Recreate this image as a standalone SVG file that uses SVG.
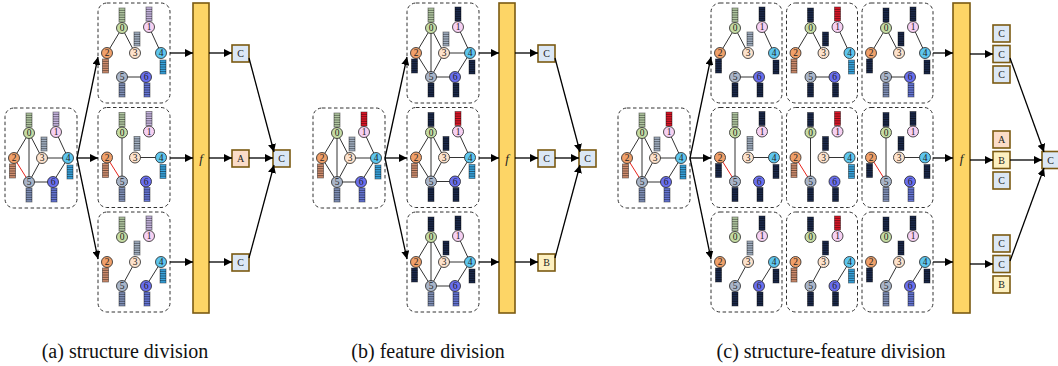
<svg xmlns="http://www.w3.org/2000/svg" xmlns:xlink="http://www.w3.org/1999/xlink" width="1058" height="366" viewBox="0 0 1058 366">
<style>
.box{fill:none;stroke:#333;stroke-width:1;stroke-dasharray:3.5 2.5}
.e{stroke:#333;stroke-width:1;fill:none}
.er{stroke:#e8241c;stroke-width:1;fill:none}
.n{stroke:#222;stroke-width:.8}
.n0{fill:#c6dca4}.n1{fill:#f6d0f2}.n2{fill:#f0a06a}.n3{fill:#fde2cc}.n4{fill:#5ec6ee}.n5{fill:#a9b5c9}.n6{fill:#6a6ff0}
.lab{font-family:"Liberation Serif","Times New Roman",serif;font-size:9.5px;text-anchor:middle;fill:#222}
.b0{color:#b4caa4}.b1{color:#c9b8e2}.br{color:#e0182a}.b2{color:#d39070}.b3{color:#a4b2c4}.b4{color:#3aa6e0}.b5{color:#8494bc}.b6{color:#6878d8}.bd{color:#1c2a4c}
.f{fill:#fdd566;stroke:#7b5a12;stroke-width:1.6}
.fl{font-family:"Liberation Serif","Times New Roman",serif;font-size:13px;font-style:italic;text-anchor:middle;fill:#222}
.o{stroke:#7b5a12;stroke-width:1.6}
.oC{fill:#dbe7f5}.oA{fill:#fbdcc8}.oB{fill:#fdf0c0}
.ol{font-family:"Liberation Serif","Times New Roman",serif;font-size:10px;text-anchor:middle;fill:#222}
.ar{stroke:#000;stroke-width:1.3;fill:none;marker-end:url(#ah)}
.cap{font-family:"Liberation Serif","Times New Roman",serif;font-size:20px;text-anchor:middle;fill:#111}
</style>
<defs>
<marker id="ah" viewBox="0 0 10 10" refX="10" refY="5" markerWidth="8" markerHeight="8" markerUnits="userSpaceOnUse" orient="auto"><path d="M0,0L10,5L0,10z" fill="#000"/></marker>
<!-- feature vector: six stacked cells, colour taken from currentColor -->
<g id="bar"><rect x="-3" y="0" width="6" height="14" fill="currentColor" stroke="#000" stroke-opacity=".5" stroke-width=".8"/><path d="M-3 2.33h6M-3 4.67h6M-3 7h6M-3 9.33h6M-3 11.67h6" stroke="#000" stroke-opacity=".5" stroke-width=".9"/></g>
</defs>

<!-- ===== (a) structure division ===== -->
<g id="a-input" transform="translate(5,108)">
<rect class="box" width="72" height="100" rx="9"/>
<path class="e" d="M24 25L9 50M24 25L37 50M24 25V74M51 24L63 50M37 50H63M37 50L24 74M63 50L48 74M24 74H48"/>
<path class="er" d="M9 50L24 74"/>
<use href="#bar" x="24" y="5" class="b0"/><use href="#bar" x="51" y="4" class="b1"/><use href="#bar" x="7.5" y="56" class="b2"/><use href="#bar" x="39" y="29" class="b3"/><use href="#bar" x="65" y="57" class="b4"/><use href="#bar" x="24" y="80" class="b5"/><use href="#bar" x="49" y="80" class="b6"/>
<circle class="n n0" cx="24" cy="25" r="5.5"/><text class="lab" x="24" y="28.3">0</text>
<circle class="n n1" cx="51" cy="24" r="5.5"/><text class="lab" x="51" y="27.3">1</text>
<circle class="n n2" cx="9" cy="50" r="5.5"/><text class="lab" x="9" y="53.3">2</text>
<circle class="n n3" cx="37" cy="50" r="5.5"/><text class="lab" x="37" y="53.3">3</text>
<circle class="n n4" cx="63" cy="50" r="5.5"/><text class="lab" x="63" y="53.3">4</text>
<circle class="n n5" cx="24" cy="74" r="5.5"/><text class="lab" x="24" y="77.3">5</text>
<circle class="n n6" cx="48" cy="74" r="5.5"/><text class="lab" x="48" y="77.3">6</text>
</g>
<g id="a-sub1" transform="translate(98,3)">
<rect class="box" width="72" height="100" rx="9"/>
<path class="e" d="M24 25L9 50M24 25L37 50M51 24L63 50M24 74H48"/>
<use href="#bar" x="24" y="5" class="b0"/><use href="#bar" x="51" y="4" class="b1"/><use href="#bar" x="7.5" y="56" class="b2"/><use href="#bar" x="39" y="29" class="b3"/><use href="#bar" x="65" y="57" class="b4"/><use href="#bar" x="24" y="80" class="b5"/><use href="#bar" x="49" y="80" class="b6"/>
<circle class="n n0" cx="24" cy="25" r="5.5"/><text class="lab" x="24" y="28.3">0</text>
<circle class="n n1" cx="51" cy="24" r="5.5"/><text class="lab" x="51" y="27.3">1</text>
<circle class="n n2" cx="9" cy="50" r="5.5"/><text class="lab" x="9" y="53.3">2</text>
<circle class="n n3" cx="37" cy="50" r="5.5"/><text class="lab" x="37" y="53.3">3</text>
<circle class="n n4" cx="63" cy="50" r="5.5"/><text class="lab" x="63" y="53.3">4</text>
<circle class="n n5" cx="24" cy="74" r="5.5"/><text class="lab" x="24" y="77.3">5</text>
<circle class="n n6" cx="48" cy="74" r="5.5"/><text class="lab" x="48" y="77.3">6</text>
</g>
<g id="a-sub2" transform="translate(98,107.5)">
<rect class="box" width="72" height="100" rx="9"/>
<path class="e" d="M24 25V74M37 50H63"/>
<path class="er" d="M9 50L24 74"/>
<use href="#bar" x="24" y="5" class="b0"/><use href="#bar" x="51" y="4" class="b1"/><use href="#bar" x="7.5" y="56" class="b2"/><use href="#bar" x="39" y="29" class="b3"/><use href="#bar" x="65" y="57" class="b4"/><use href="#bar" x="24" y="80" class="b5"/><use href="#bar" x="49" y="80" class="b6"/>
<circle class="n n0" cx="24" cy="25" r="5.5"/><text class="lab" x="24" y="28.3">0</text>
<circle class="n n1" cx="51" cy="24" r="5.5"/><text class="lab" x="51" y="27.3">1</text>
<circle class="n n2" cx="9" cy="50" r="5.5"/><text class="lab" x="9" y="53.3">2</text>
<circle class="n n3" cx="37" cy="50" r="5.5"/><text class="lab" x="37" y="53.3">3</text>
<circle class="n n4" cx="63" cy="50" r="5.5"/><text class="lab" x="63" y="53.3">4</text>
<circle class="n n5" cx="24" cy="74" r="5.5"/><text class="lab" x="24" y="77.3">5</text>
<circle class="n n6" cx="48" cy="74" r="5.5"/><text class="lab" x="48" y="77.3">6</text>
</g>
<g id="a-sub3" transform="translate(98,212)">
<rect class="box" width="72" height="100" rx="9"/>
<path class="e" d="M37 50L24 74M63 50L48 74"/>
<use href="#bar" x="24" y="5" class="b0"/><use href="#bar" x="51" y="4" class="b1"/><use href="#bar" x="7.5" y="56" class="b2"/><use href="#bar" x="39" y="29" class="b3"/><use href="#bar" x="65" y="57" class="b4"/><use href="#bar" x="24" y="80" class="b5"/><use href="#bar" x="49" y="80" class="b6"/>
<circle class="n n0" cx="24" cy="25" r="5.5"/><text class="lab" x="24" y="28.3">0</text>
<circle class="n n1" cx="51" cy="24" r="5.5"/><text class="lab" x="51" y="27.3">1</text>
<circle class="n n2" cx="9" cy="50" r="5.5"/><text class="lab" x="9" y="53.3">2</text>
<circle class="n n3" cx="37" cy="50" r="5.5"/><text class="lab" x="37" y="53.3">3</text>
<circle class="n n4" cx="63" cy="50" r="5.5"/><text class="lab" x="63" y="53.3">4</text>
<circle class="n n5" cx="24" cy="74" r="5.5"/><text class="lab" x="24" y="77.3">5</text>
<circle class="n n6" cx="48" cy="74" r="5.5"/><text class="lab" x="48" y="77.3">6</text>
</g>
<g id="a-f"><rect class="f" x="193" y="3" width="16" height="310"/><text class="fl" x="201" y="163">f</text></g>
<g id="a-out1"><rect class="o oC" x="232" y="45" width="17" height="17"/><text class="ol" x="240.5" y="57">C</text></g>
<g id="a-out2"><rect class="o oA" x="232" y="150" width="17" height="17"/><text class="ol" x="240.5" y="162">A</text></g>
<g id="a-out3"><rect class="o oC" x="232" y="254" width="17" height="17"/><text class="ol" x="240.5" y="266">C</text></g>
<g id="a-final"><rect class="o oC" x="273" y="150" width="17" height="17"/><text class="ol" x="281.5" y="162">C</text></g>

<!-- ===== (b) feature division ===== -->
<g id="b-input" transform="translate(313,108)">
<rect class="box" width="72" height="100" rx="9"/>
<path class="e" d="M24 25L9 50M24 25L37 50M24 25V74M51 24L63 50M37 50H63M37 50L24 74M63 50L48 74M24 74H48M9 50L24 74"/>
<use href="#bar" x="24" y="5" class="b0"/><use href="#bar" x="51" y="4" class="br"/><use href="#bar" x="7.5" y="56" class="b2"/><use href="#bar" x="39" y="29" class="b3"/><use href="#bar" x="65" y="57" class="b4"/><use href="#bar" x="24" y="80" class="b5"/><use href="#bar" x="49" y="80" class="b6"/>
<circle class="n n0" cx="24" cy="25" r="5.5"/><text class="lab" x="24" y="28.3">0</text>
<circle class="n n1" cx="51" cy="24" r="5.5"/><text class="lab" x="51" y="27.3">1</text>
<circle class="n n2" cx="9" cy="50" r="5.5"/><text class="lab" x="9" y="53.3">2</text>
<circle class="n n3" cx="37" cy="50" r="5.5"/><text class="lab" x="37" y="53.3">3</text>
<circle class="n n4" cx="63" cy="50" r="5.5"/><text class="lab" x="63" y="53.3">4</text>
<circle class="n n5" cx="24" cy="74" r="5.5"/><text class="lab" x="24" y="77.3">5</text>
<circle class="n n6" cx="48" cy="74" r="5.5"/><text class="lab" x="48" y="77.3">6</text>
</g>
<g id="b-sub1" transform="translate(407,3)">
<rect class="box" width="72" height="100" rx="9"/>
<path class="e" d="M24 25L9 50M24 25L37 50M24 25V74M51 24L63 50M37 50H63M37 50L24 74M63 50L48 74M24 74H48M9 50L24 74"/>
<use href="#bar" x="24" y="5" class="b0"/><use href="#bar" x="51" y="4" class="bd"/><use href="#bar" x="7.5" y="56" class="bd"/><use href="#bar" x="39" y="29" class="b3"/><use href="#bar" x="65" y="57" class="bd"/><use href="#bar" x="24" y="80" class="bd"/><use href="#bar" x="49" y="80" class="bd"/>
<circle class="n n0" cx="24" cy="25" r="5.5"/><text class="lab" x="24" y="28.3">0</text>
<circle class="n n1" cx="51" cy="24" r="5.5"/><text class="lab" x="51" y="27.3">1</text>
<circle class="n n2" cx="9" cy="50" r="5.5"/><text class="lab" x="9" y="53.3">2</text>
<circle class="n n3" cx="37" cy="50" r="5.5"/><text class="lab" x="37" y="53.3">3</text>
<circle class="n n4" cx="63" cy="50" r="5.5"/><text class="lab" x="63" y="53.3">4</text>
<circle class="n n5" cx="24" cy="74" r="5.5"/><text class="lab" x="24" y="77.3">5</text>
<circle class="n n6" cx="48" cy="74" r="5.5"/><text class="lab" x="48" y="77.3">6</text>
</g>
<g id="b-sub2" transform="translate(407,107.5)">
<rect class="box" width="72" height="100" rx="9"/>
<path class="e" d="M24 25L9 50M24 25L37 50M24 25V74M51 24L63 50M37 50H63M37 50L24 74M63 50L48 74M24 74H48M9 50L24 74"/>
<use href="#bar" x="24" y="5" class="bd"/><use href="#bar" x="51" y="4" class="br"/><use href="#bar" x="7.5" y="56" class="b2"/><use href="#bar" x="39" y="29" class="bd"/><use href="#bar" x="65" y="57" class="b4"/><use href="#bar" x="24" y="80" class="bd"/><use href="#bar" x="49" y="80" class="bd"/>
<circle class="n n0" cx="24" cy="25" r="5.5"/><text class="lab" x="24" y="28.3">0</text>
<circle class="n n1" cx="51" cy="24" r="5.5"/><text class="lab" x="51" y="27.3">1</text>
<circle class="n n2" cx="9" cy="50" r="5.5"/><text class="lab" x="9" y="53.3">2</text>
<circle class="n n3" cx="37" cy="50" r="5.5"/><text class="lab" x="37" y="53.3">3</text>
<circle class="n n4" cx="63" cy="50" r="5.5"/><text class="lab" x="63" y="53.3">4</text>
<circle class="n n5" cx="24" cy="74" r="5.5"/><text class="lab" x="24" y="77.3">5</text>
<circle class="n n6" cx="48" cy="74" r="5.5"/><text class="lab" x="48" y="77.3">6</text>
</g>
<g id="b-sub3" transform="translate(407,212)">
<rect class="box" width="72" height="100" rx="9"/>
<path class="e" d="M24 25L9 50M24 25L37 50M24 25V74M51 24L63 50M37 50H63M37 50L24 74M63 50L48 74M24 74H48M9 50L24 74"/>
<use href="#bar" x="24" y="5" class="bd"/><use href="#bar" x="51" y="4" class="bd"/><use href="#bar" x="7.5" y="56" class="bd"/><use href="#bar" x="39" y="29" class="bd"/><use href="#bar" x="65" y="57" class="bd"/><use href="#bar" x="24" y="80" class="b5"/><use href="#bar" x="49" y="80" class="b6"/>
<circle class="n n0" cx="24" cy="25" r="5.5"/><text class="lab" x="24" y="28.3">0</text>
<circle class="n n1" cx="51" cy="24" r="5.5"/><text class="lab" x="51" y="27.3">1</text>
<circle class="n n2" cx="9" cy="50" r="5.5"/><text class="lab" x="9" y="53.3">2</text>
<circle class="n n3" cx="37" cy="50" r="5.5"/><text class="lab" x="37" y="53.3">3</text>
<circle class="n n4" cx="63" cy="50" r="5.5"/><text class="lab" x="63" y="53.3">4</text>
<circle class="n n5" cx="24" cy="74" r="5.5"/><text class="lab" x="24" y="77.3">5</text>
<circle class="n n6" cx="48" cy="74" r="5.5"/><text class="lab" x="48" y="77.3">6</text>
</g>
<g id="b-f"><rect class="f" x="499" y="3" width="16" height="310"/><text class="fl" x="507" y="163">f</text></g>
<g id="b-out1"><rect class="o oC" x="538" y="45" width="17" height="17"/><text class="ol" x="546.5" y="57">C</text></g>
<g id="b-out2"><rect class="o oC" x="538" y="150" width="17" height="17"/><text class="ol" x="546.5" y="162">C</text></g>
<g id="b-out3"><rect class="o oB" x="538" y="254" width="17" height="17"/><text class="ol" x="546.5" y="266">B</text></g>
<g id="b-final"><rect class="o oC" x="579" y="150" width="17" height="17"/><text class="ol" x="587.5" y="162">C</text></g>

<!-- ===== (c) structure-feature division ===== -->
<g id="c-input" transform="translate(618,108)">
<rect class="box" width="72" height="100" rx="9"/>
<path class="e" d="M24 25L9 50M24 25L37 50M24 25V74M51 24L63 50M37 50H63M37 50L24 74M63 50L48 74M24 74H48"/>
<path class="er" d="M9 50L24 74"/>
<use href="#bar" x="24" y="5" class="b0"/><use href="#bar" x="51" y="4" class="br"/><use href="#bar" x="7.5" y="56" class="b2"/><use href="#bar" x="39" y="29" class="b3"/><use href="#bar" x="65" y="57" class="b4"/><use href="#bar" x="24" y="80" class="b5"/><use href="#bar" x="49" y="80" class="b6"/>
<circle class="n n0" cx="24" cy="25" r="5.5"/><text class="lab" x="24" y="28.3">0</text>
<circle class="n n1" cx="51" cy="24" r="5.5"/><text class="lab" x="51" y="27.3">1</text>
<circle class="n n2" cx="9" cy="50" r="5.5"/><text class="lab" x="9" y="53.3">2</text>
<circle class="n n3" cx="37" cy="50" r="5.5"/><text class="lab" x="37" y="53.3">3</text>
<circle class="n n4" cx="63" cy="50" r="5.5"/><text class="lab" x="63" y="53.3">4</text>
<circle class="n n5" cx="24" cy="74" r="5.5"/><text class="lab" x="24" y="77.3">5</text>
<circle class="n n6" cx="48" cy="74" r="5.5"/><text class="lab" x="48" y="77.3">6</text>
</g>
<!-- row 1: edges 0-2 0-3 1-4 5-6 -->
<g id="c-s1f1" transform="translate(711,3)">
<rect class="box" width="71" height="100" rx="9"/>
<path class="e" d="M24 25L9 50M24 25L37 50M51 24L63 50M24 74H48"/>
<use href="#bar" x="24" y="5" class="b0"/><use href="#bar" x="51" y="4" class="bd"/><use href="#bar" x="7.5" y="56" class="bd"/><use href="#bar" x="39" y="29" class="b3"/><use href="#bar" x="65" y="57" class="bd"/><use href="#bar" x="24" y="80" class="bd"/><use href="#bar" x="49" y="80" class="bd"/>
<circle class="n n0" cx="24" cy="25" r="5.5"/><text class="lab" x="24" y="28.3">0</text>
<circle class="n n1" cx="51" cy="24" r="5.5"/><text class="lab" x="51" y="27.3">1</text>
<circle class="n n2" cx="9" cy="50" r="5.5"/><text class="lab" x="9" y="53.3">2</text>
<circle class="n n3" cx="37" cy="50" r="5.5"/><text class="lab" x="37" y="53.3">3</text>
<circle class="n n4" cx="63" cy="50" r="5.5"/><text class="lab" x="63" y="53.3">4</text>
<circle class="n n5" cx="24" cy="74" r="5.5"/><text class="lab" x="24" y="77.3">5</text>
<circle class="n n6" cx="48" cy="74" r="5.5"/><text class="lab" x="48" y="77.3">6</text>
</g>
<g id="c-s1f2" transform="translate(786.5,3)">
<rect class="box" width="71" height="100" rx="9"/>
<path class="e" d="M24 25L9 50M24 25L37 50M51 24L63 50M24 74H48"/>
<use href="#bar" x="24" y="5" class="bd"/><use href="#bar" x="51" y="4" class="br"/><use href="#bar" x="7.5" y="56" class="b2"/><use href="#bar" x="39" y="29" class="bd"/><use href="#bar" x="65" y="57" class="b4"/><use href="#bar" x="24" y="80" class="bd"/><use href="#bar" x="49" y="80" class="bd"/>
<circle class="n n0" cx="24" cy="25" r="5.5"/><text class="lab" x="24" y="28.3">0</text>
<circle class="n n1" cx="51" cy="24" r="5.5"/><text class="lab" x="51" y="27.3">1</text>
<circle class="n n2" cx="9" cy="50" r="5.5"/><text class="lab" x="9" y="53.3">2</text>
<circle class="n n3" cx="37" cy="50" r="5.5"/><text class="lab" x="37" y="53.3">3</text>
<circle class="n n4" cx="63" cy="50" r="5.5"/><text class="lab" x="63" y="53.3">4</text>
<circle class="n n5" cx="24" cy="74" r="5.5"/><text class="lab" x="24" y="77.3">5</text>
<circle class="n n6" cx="48" cy="74" r="5.5"/><text class="lab" x="48" y="77.3">6</text>
</g>
<g id="c-s1f3" transform="translate(862,3)">
<rect class="box" width="71" height="100" rx="9"/>
<path class="e" d="M24 25L9 50M24 25L37 50M51 24L63 50M24 74H48"/>
<use href="#bar" x="24" y="5" class="bd"/><use href="#bar" x="51" y="4" class="bd"/><use href="#bar" x="7.5" y="56" class="bd"/><use href="#bar" x="39" y="29" class="bd"/><use href="#bar" x="65" y="57" class="bd"/><use href="#bar" x="24" y="80" class="b5"/><use href="#bar" x="49" y="80" class="b6"/>
<circle class="n n0" cx="24" cy="25" r="5.5"/><text class="lab" x="24" y="28.3">0</text>
<circle class="n n1" cx="51" cy="24" r="5.5"/><text class="lab" x="51" y="27.3">1</text>
<circle class="n n2" cx="9" cy="50" r="5.5"/><text class="lab" x="9" y="53.3">2</text>
<circle class="n n3" cx="37" cy="50" r="5.5"/><text class="lab" x="37" y="53.3">3</text>
<circle class="n n4" cx="63" cy="50" r="5.5"/><text class="lab" x="63" y="53.3">4</text>
<circle class="n n5" cx="24" cy="74" r="5.5"/><text class="lab" x="24" y="77.3">5</text>
<circle class="n n6" cx="48" cy="74" r="5.5"/><text class="lab" x="48" y="77.3">6</text>
</g>
<!-- row 2: edges 0-5 2-5 3-4 -->
<g id="c-s2f1" transform="translate(711,107.5)">
<rect class="box" width="71" height="100" rx="9"/>
<path class="e" d="M24 25V74M37 50H63"/><path class="er" d="M9 50L24 74"/>
<use href="#bar" x="24" y="5" class="b0"/><use href="#bar" x="51" y="4" class="bd"/><use href="#bar" x="7.5" y="56" class="bd"/><use href="#bar" x="39" y="29" class="b3"/><use href="#bar" x="65" y="57" class="bd"/><use href="#bar" x="24" y="80" class="bd"/><use href="#bar" x="49" y="80" class="bd"/>
<circle class="n n0" cx="24" cy="25" r="5.5"/><text class="lab" x="24" y="28.3">0</text>
<circle class="n n1" cx="51" cy="24" r="5.5"/><text class="lab" x="51" y="27.3">1</text>
<circle class="n n2" cx="9" cy="50" r="5.5"/><text class="lab" x="9" y="53.3">2</text>
<circle class="n n3" cx="37" cy="50" r="5.5"/><text class="lab" x="37" y="53.3">3</text>
<circle class="n n4" cx="63" cy="50" r="5.5"/><text class="lab" x="63" y="53.3">4</text>
<circle class="n n5" cx="24" cy="74" r="5.5"/><text class="lab" x="24" y="77.3">5</text>
<circle class="n n6" cx="48" cy="74" r="5.5"/><text class="lab" x="48" y="77.3">6</text>
</g>
<g id="c-s2f2" transform="translate(786.5,107.5)">
<rect class="box" width="71" height="100" rx="9"/>
<path class="e" d="M24 25V74M37 50H63"/><path class="er" d="M9 50L24 74"/>
<use href="#bar" x="24" y="5" class="bd"/><use href="#bar" x="51" y="4" class="br"/><use href="#bar" x="7.5" y="56" class="b2"/><use href="#bar" x="39" y="29" class="bd"/><use href="#bar" x="65" y="57" class="b4"/><use href="#bar" x="24" y="80" class="bd"/><use href="#bar" x="49" y="80" class="bd"/>
<circle class="n n0" cx="24" cy="25" r="5.5"/><text class="lab" x="24" y="28.3">0</text>
<circle class="n n1" cx="51" cy="24" r="5.5"/><text class="lab" x="51" y="27.3">1</text>
<circle class="n n2" cx="9" cy="50" r="5.5"/><text class="lab" x="9" y="53.3">2</text>
<circle class="n n3" cx="37" cy="50" r="5.5"/><text class="lab" x="37" y="53.3">3</text>
<circle class="n n4" cx="63" cy="50" r="5.5"/><text class="lab" x="63" y="53.3">4</text>
<circle class="n n5" cx="24" cy="74" r="5.5"/><text class="lab" x="24" y="77.3">5</text>
<circle class="n n6" cx="48" cy="74" r="5.5"/><text class="lab" x="48" y="77.3">6</text>
</g>
<g id="c-s2f3" transform="translate(862,107.5)">
<rect class="box" width="71" height="100" rx="9"/>
<path class="e" d="M24 25V74M37 50H63"/><path class="er" d="M9 50L24 74"/>
<use href="#bar" x="24" y="5" class="bd"/><use href="#bar" x="51" y="4" class="bd"/><use href="#bar" x="7.5" y="56" class="bd"/><use href="#bar" x="39" y="29" class="bd"/><use href="#bar" x="65" y="57" class="bd"/><use href="#bar" x="24" y="80" class="b5"/><use href="#bar" x="49" y="80" class="b6"/>
<circle class="n n0" cx="24" cy="25" r="5.5"/><text class="lab" x="24" y="28.3">0</text>
<circle class="n n1" cx="51" cy="24" r="5.5"/><text class="lab" x="51" y="27.3">1</text>
<circle class="n n2" cx="9" cy="50" r="5.5"/><text class="lab" x="9" y="53.3">2</text>
<circle class="n n3" cx="37" cy="50" r="5.5"/><text class="lab" x="37" y="53.3">3</text>
<circle class="n n4" cx="63" cy="50" r="5.5"/><text class="lab" x="63" y="53.3">4</text>
<circle class="n n5" cx="24" cy="74" r="5.5"/><text class="lab" x="24" y="77.3">5</text>
<circle class="n n6" cx="48" cy="74" r="5.5"/><text class="lab" x="48" y="77.3">6</text>
</g>
<!-- row 3: edges 3-5 4-6 -->
<g id="c-s3f1" transform="translate(711,212)">
<rect class="box" width="71" height="100" rx="9"/>
<path class="e" d="M37 50L24 74M63 50L48 74"/>
<use href="#bar" x="24" y="5" class="b0"/><use href="#bar" x="51" y="4" class="bd"/><use href="#bar" x="7.5" y="56" class="bd"/><use href="#bar" x="39" y="29" class="b3"/><use href="#bar" x="65" y="57" class="bd"/><use href="#bar" x="24" y="80" class="bd"/><use href="#bar" x="49" y="80" class="bd"/>
<circle class="n n0" cx="24" cy="25" r="5.5"/><text class="lab" x="24" y="28.3">0</text>
<circle class="n n1" cx="51" cy="24" r="5.5"/><text class="lab" x="51" y="27.3">1</text>
<circle class="n n2" cx="9" cy="50" r="5.5"/><text class="lab" x="9" y="53.3">2</text>
<circle class="n n3" cx="37" cy="50" r="5.5"/><text class="lab" x="37" y="53.3">3</text>
<circle class="n n4" cx="63" cy="50" r="5.5"/><text class="lab" x="63" y="53.3">4</text>
<circle class="n n5" cx="24" cy="74" r="5.5"/><text class="lab" x="24" y="77.3">5</text>
<circle class="n n6" cx="48" cy="74" r="5.5"/><text class="lab" x="48" y="77.3">6</text>
</g>
<g id="c-s3f2" transform="translate(786.5,212)">
<rect class="box" width="71" height="100" rx="9"/>
<path class="e" d="M37 50L24 74M63 50L48 74"/>
<use href="#bar" x="24" y="5" class="bd"/><use href="#bar" x="51" y="4" class="br"/><use href="#bar" x="7.5" y="56" class="b2"/><use href="#bar" x="39" y="29" class="bd"/><use href="#bar" x="65" y="57" class="b4"/><use href="#bar" x="24" y="80" class="bd"/><use href="#bar" x="49" y="80" class="bd"/>
<circle class="n n0" cx="24" cy="25" r="5.5"/><text class="lab" x="24" y="28.3">0</text>
<circle class="n n1" cx="51" cy="24" r="5.5"/><text class="lab" x="51" y="27.3">1</text>
<circle class="n n2" cx="9" cy="50" r="5.5"/><text class="lab" x="9" y="53.3">2</text>
<circle class="n n3" cx="37" cy="50" r="5.5"/><text class="lab" x="37" y="53.3">3</text>
<circle class="n n4" cx="63" cy="50" r="5.5"/><text class="lab" x="63" y="53.3">4</text>
<circle class="n n5" cx="24" cy="74" r="5.5"/><text class="lab" x="24" y="77.3">5</text>
<circle class="n n6" cx="48" cy="74" r="5.5"/><text class="lab" x="48" y="77.3">6</text>
</g>
<g id="c-s3f3" transform="translate(862,212)">
<rect class="box" width="71" height="100" rx="9"/>
<path class="e" d="M37 50L24 74M63 50L48 74"/>
<use href="#bar" x="24" y="5" class="bd"/><use href="#bar" x="51" y="4" class="bd"/><use href="#bar" x="7.5" y="56" class="bd"/><use href="#bar" x="39" y="29" class="bd"/><use href="#bar" x="65" y="57" class="bd"/><use href="#bar" x="24" y="80" class="b5"/><use href="#bar" x="49" y="80" class="b6"/>
<circle class="n n0" cx="24" cy="25" r="5.5"/><text class="lab" x="24" y="28.3">0</text>
<circle class="n n1" cx="51" cy="24" r="5.5"/><text class="lab" x="51" y="27.3">1</text>
<circle class="n n2" cx="9" cy="50" r="5.5"/><text class="lab" x="9" y="53.3">2</text>
<circle class="n n3" cx="37" cy="50" r="5.5"/><text class="lab" x="37" y="53.3">3</text>
<circle class="n n4" cx="63" cy="50" r="5.5"/><text class="lab" x="63" y="53.3">4</text>
<circle class="n n5" cx="24" cy="74" r="5.5"/><text class="lab" x="24" y="77.3">5</text>
<circle class="n n6" cx="48" cy="74" r="5.5"/><text class="lab" x="48" y="77.3">6</text>
</g>
<g id="c-f"><rect class="f" x="953" y="3" width="17" height="310"/><text class="fl" x="961.5" y="163">f</text></g>
<g id="c-out1">
<rect class="o oC" x="993" y="25" width="17" height="17"/><text class="ol" x="1001.5" y="37">C</text>
<rect class="o oC" x="993" y="45.5" width="17" height="17"/><text class="ol" x="1001.5" y="57.5">C</text>
<rect class="o oC" x="993" y="66" width="17" height="17"/><text class="ol" x="1001.5" y="78">C</text>
</g>
<g id="c-out2">
<rect class="o oA" x="993" y="131" width="17" height="17"/><text class="ol" x="1001.5" y="143">A</text>
<rect class="o oB" x="993" y="151.5" width="17" height="17"/><text class="ol" x="1001.5" y="163.5">B</text>
<rect class="o oC" x="993" y="172" width="17" height="17"/><text class="ol" x="1001.5" y="184">C</text>
</g>
<g id="c-out3">
<rect class="o oC" x="993" y="235" width="17" height="17"/><text class="ol" x="1001.5" y="247">C</text>
<rect class="o oC" x="993" y="255.5" width="17" height="17"/><text class="ol" x="1001.5" y="267.5">C</text>
<rect class="o oB" x="993" y="276" width="17" height="17"/><text class="ol" x="1001.5" y="288">B</text>
</g>
<g id="c-final"><rect class="o oC" x="1042" y="151.5" width="17" height="17"/><text class="ol" x="1050.5" y="163.5">C</text></g>

<!-- connectors -->
<g id="connectors">
<path class="ar" d="M77 158L98 57"/><path class="ar" d="M77 158H98"/><path class="ar" d="M77 158L98 259"/>
<path class="ar" d="M170 53H193"/><path class="ar" d="M170 158H193"/><path class="ar" d="M170 262H193"/>
<path class="ar" d="M209 53H232"/><path class="ar" d="M209 158H232"/><path class="ar" d="M209 262H232"/>
<path class="ar" d="M249 58L274 152"/><path class="ar" d="M249 158H273"/><path class="ar" d="M249 258L274 165"/>

<path class="ar" d="M385 158L407 57"/><path class="ar" d="M385 158H407"/><path class="ar" d="M385 158L407 259"/>
<path class="ar" d="M479 53H499"/><path class="ar" d="M479 158H499"/><path class="ar" d="M479 262H499"/>
<path class="ar" d="M515 53H538"/><path class="ar" d="M515 158H538"/><path class="ar" d="M515 262H538"/>
<path class="ar" d="M555 58L580 152"/><path class="ar" d="M555 158H579"/><path class="ar" d="M555 258L580 165"/>

<path class="ar" d="M690 158L711 57"/><path class="ar" d="M690 158H711"/><path class="ar" d="M690 158L711 259"/>
<path class="ar" d="M933 53H953"/><path class="ar" d="M933 158H953"/><path class="ar" d="M933 262H953"/>
<path class="ar" d="M970 54H993"/><path class="ar" d="M970 160H993"/><path class="ar" d="M970 264H993"/>
<path class="ar" d="M1010 58L1044 152"/><path class="ar" d="M1010 160H1042"/><path class="ar" d="M1010 261L1044 168"/>
</g>

<text class="cap" x="125" y="358">(a) structure division</text>
<text class="cap" x="428" y="358">(b) feature division</text>
<text class="cap" x="831" y="358">(c) structure-feature division</text>
</svg>
